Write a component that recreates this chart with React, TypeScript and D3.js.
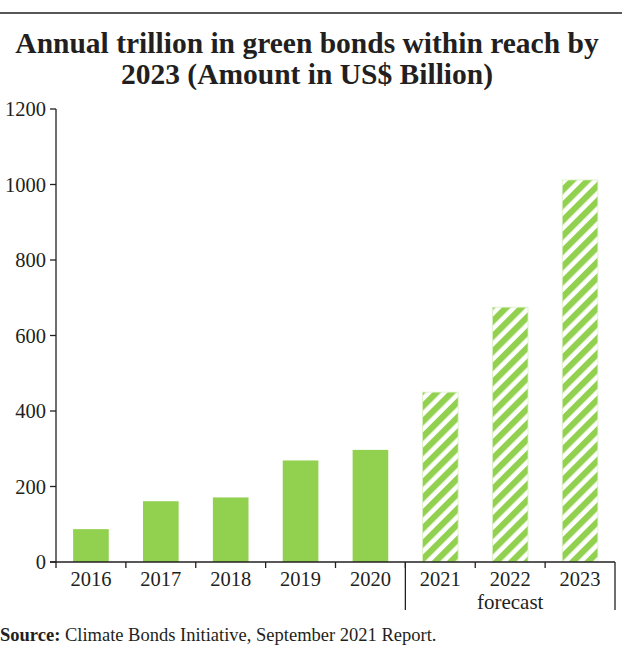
import React from "react";
import * as d3 from "d3";

const years = ["2016", "2017", "2018", "2019", "2020", "2021", "2022", "2023"];
const values = [87, 161, 171, 269, 297, 450, 675, 1012];
const forecastYears = ["2021", "2022", "2023"];
const yTicks = [0, 200, 400, 600, 800, 1000, 1200];
const titleLines = ["Annual trillion in green bonds within reach by", "2023 (Amount in US$ Billion)"];

const GREEN = "#92d050";
const INK = "#231f20";
const FONT = "'Liberation Serif', serif";

export default function App() {
  const W = 622, H = 659;
  const x0 = 56, x1 = 615, yTop = 109, yBot = 562;
  const x = d3.scaleBand<string>().domain(years).range([x0, x1]).paddingInner(0.49).paddingOuter(0.245);
  const xb = d3.scaleBand<string>().domain(years).range([x0, x1]);
  const y = d3.scaleLinear().domain([0, 1200]).range([yBot, yTop]);
  const fStart = xb(forecastYears[0])!;
  const fEnd = xb(forecastYears[forecastYears.length - 1])! + xb.bandwidth();

  return (
    <svg width={W} height={H} style={{ position: "absolute", left: 0, top: 0, background: "#fff" }}>
      <defs>
        <pattern id="hatch" patternUnits="userSpaceOnUse" width={10.8} height={10.8} patternTransform="rotate(45)">
          <rect width={10.8} height={10.8} fill="#fff" />
          <rect width={6.2} height={10.8} fill={GREEN} />
        </pattern>
      </defs>
      <line x1={0} x2={W} y1={13} y2={13} stroke={INK} strokeWidth={1.5} />
      {titleLines.map((t, i) => (
        <text key={i} x={307} y={53 + i * 31} textAnchor="middle" fontFamily={FONT} fontWeight="bold" fontSize={29.5} fill={INK}>
          {t}
        </text>
      ))}
      {/* bars */}
      {years.map((yr, i) => {
        const isF = forecastYears.includes(yr);
        return (
          <rect key={yr} x={x(yr)} y={y(values[i])} width={x.bandwidth()} height={yBot - y(values[i])}
            fill={isF ? "url(#hatch)" : GREEN} stroke={isF ? "#d9f0c0" : "none"} strokeWidth={isF ? 0.8 : 0} />
        );
      })}
      {/* y axis */}
      <line x1={x0} x2={x0} y1={yTop} y2={yBot} stroke={INK} strokeWidth={1.3} />
      {yTicks.map((t) => (
        <g key={t}>
          <line x1={x0 - 6} x2={x0} y1={y(t)} y2={y(t)} stroke={INK} strokeWidth={1.3} />
          <text x={x0 - 10} y={y(t) + 7} textAnchor="end" fontFamily={FONT} fontSize={20.5} fill={INK}>{t}</text>
        </g>
      ))}
      {/* x axis */}
      <line x1={x0 - 6} x2={x1} y1={yBot} y2={yBot} stroke={INK} strokeWidth={1.3} />
      {years.map((yr) => (
        <line key={"t" + yr} x1={xb(yr)} x2={xb(yr)} y1={yBot} y2={yBot + 6} stroke={INK} strokeWidth={1.3} />
      ))}
      <line x1={x1} x2={x1} y1={yBot} y2={610} stroke={INK} strokeWidth={1.3} />
      <line x1={fStart} x2={fStart} y1={yBot} y2={610} stroke={INK} strokeWidth={1.3} />
      {years.map((yr) => (
        <text key={"l" + yr} x={xb(yr)! + xb.bandwidth() / 2} y={586} textAnchor="middle" fontFamily={FONT} fontSize={20.5} fill={INK}>{yr}</text>
      ))}
      <text x={(fStart + fEnd) / 2} y={609} textAnchor="middle" fontFamily={FONT} fontSize={21} fill={INK}>forecast</text>
      <text x={0} y={641} fontFamily={FONT} fontSize={18.5} fill={INK}>
        <tspan fontWeight="bold">Source:</tspan> Climate Bonds Initiative, September 2021 Report.
      </text>
    </svg>
  );
}
